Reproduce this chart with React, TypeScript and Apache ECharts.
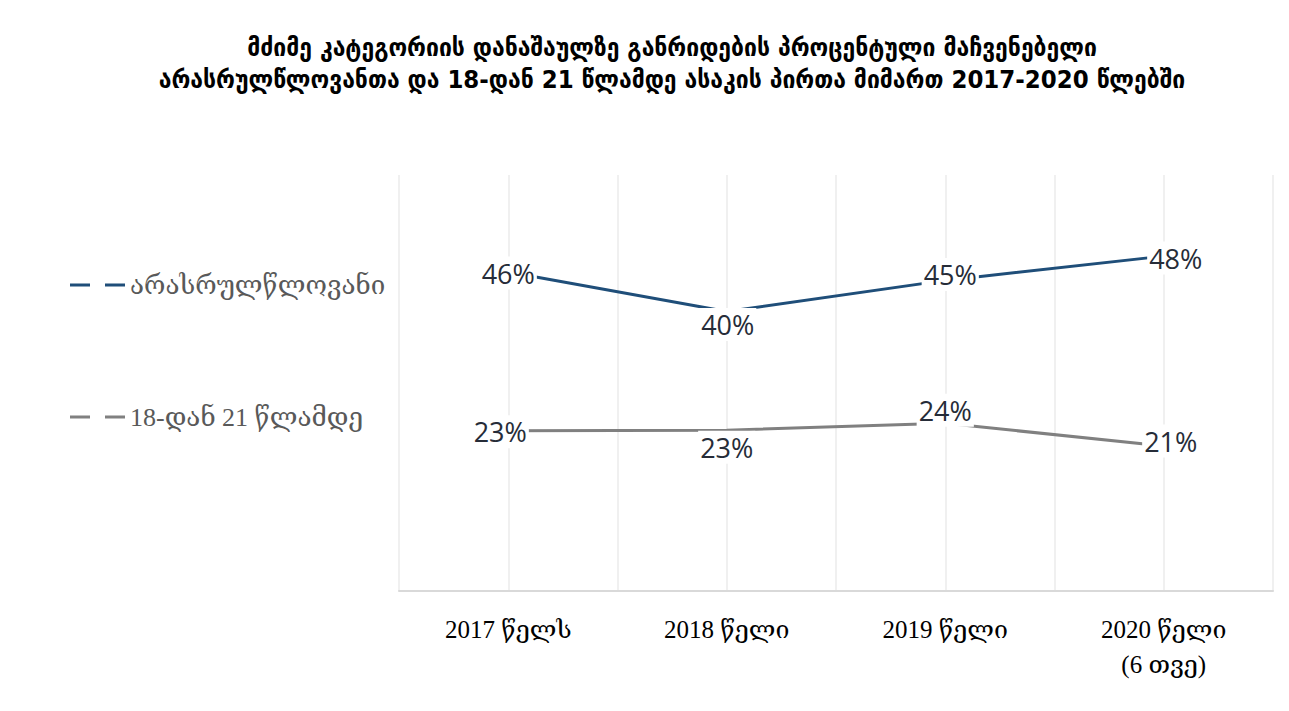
import React, { useEffect, useRef } from "react";
import * as echarts from "echarts";

const titleLines = [
  "მძიმე კატეგორიის დანაშაულზე განრიდების პროცენტული მაჩვენებელი",
  "არასრულწლოვანთა და 18-დან 21 წლამდე ასაკის პირთა მიმართ 2017-2020 წლებში",
];
const categories = ["2017 წელს", "2018 წელი", "2019 წელი", "2020 წელი\n(6 თვე)"];
const seriesNames = ["არასრულწლოვანი", "18-დან 21 წლამდე"];
const minorValues = [46, 40.3, 44.8, 48.3];
const youngAdultValues = [23.1, 23.2, 24.2, 20.9];
const minorLabelOffsets = [[0, 1], [1, 13], [5, -6], [12, 2]];
const youngLabelOffsets = [[-8, 1], [0, 17], [0, -13], [7, -5]];

const colors = ["#1f4e79", "#808080"];

export default function App() {
  const ref = useRef<HTMLDivElement>(null);
  useEffect(() => {
    if (!ref.current) return;
    const chart = echarts.init(ref.current, null, { renderer: "svg" });
    const labelBase = {
      show: true,
      position: "inside",
      fontFamily: "'Open Sans', sans-serif",
      fontSize: 27,
      color: "#262c38",
      backgroundColor: "#ffffff",
      padding: [3, 2],
      formatter: (p: any) => Math.round(p.value) + "%",
    };
    const mk = (vals: number[], offs: number[][]) =>
      vals.map((v, i) => ({ value: v, label: { ...labelBase, offset: offs[i] } }));
    const dashIcon = "path://M0,0 H20 V3 H0 Z M35,0 H55 V3 H35 Z";
    chart.setOption({
      animation: false,
      backgroundColor: "#ffffff",
      graphic: [
        {
          type: "text",
          x: 672,
          y: 31,
          style: {
            text: titleLines.join("\n"),
            align: "center",
            verticalAlign: "top",
            fontFamily: "'DejaVu Sans Condensed', 'DejaVu Sans', sans-serif",
            fontWeight: "bold",
            fontSize: 25.5,
            lineHeight: 32,
            fill: "#000000",
          },
        },
      ],
      legend: {
        orient: "vertical",
        left: 65,
        top: 267,
        itemWidth: 55,
        itemHeight: 3,
        itemGap: 106,
        data: seriesNames.map((n) => ({ name: n, icon: dashIcon })),
        textStyle: {
          fontFamily: "'Liberation Serif', 'DejaVu Serif', serif",
          fontSize: 26,
          color: "#595959",
        },
      },
      grid: { left: 399, right: 16, top: 175, bottom: 120, containLabel: false },
      xAxis: [
        {
          type: "category",
          data: categories,
          boundaryGap: true,
          axisLine: { show: true, lineStyle: { color: "#d9d9d9", width: 2 } },
          axisTick: { show: false },
          splitLine: { show: false },
          axisLabel: {
            interval: 0,
            margin: 21,
            fontFamily: "'Liberation Serif', 'DejaVu Serif', serif",
            fontSize: 25,
            lineHeight: 35,
            color: "#000000",
          },
        },
        {
          type: "category",
          data: ["", "", "", "", "", "", "", ""],
          boundaryGap: true,
          position: "bottom",
          axisLine: { show: false },
          axisTick: { show: false },
          axisLabel: { show: false },
          splitLine: { show: true, interval: 0, lineStyle: { color: "#ebebeb", width: 1.5 } },
        },
      ],
      yAxis: { type: "value", min: 0, max: 60, show: false, splitLine: { show: false } },
      series: [
        {
          name: seriesNames[0],
          type: "line",
          xAxisIndex: 0,
          data: mk(minorValues, minorLabelOffsets),
          symbol: "circle",
          symbolSize: 1,
          color: colors[0],
          lineStyle: { width: 3, color: colors[0] },
          itemStyle: { color: colors[0] },
        },
        {
          name: seriesNames[1],
          type: "line",
          xAxisIndex: 0,
          data: mk(youngAdultValues, youngLabelOffsets),
          symbol: "circle",
          symbolSize: 1,
          color: colors[1],
          lineStyle: { width: 3, color: colors[1] },
          itemStyle: { color: colors[1] },
        },
      ],
    });
    return () => chart.dispose();
  }, []);
  return (
    <div
      ref={ref}
      style={{ position: "fixed", left: 0, top: 0, width: 1289, height: 711 }}
    />
  );
}
